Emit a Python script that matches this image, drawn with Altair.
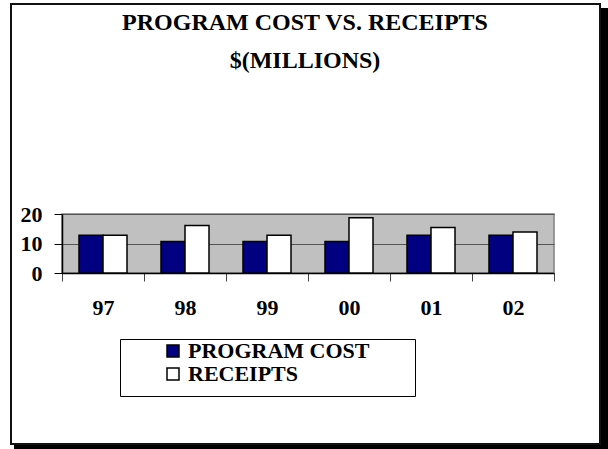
import altair as alt
import pandas as pd

# Fiscal years and the two series, in $ millions
years = ["97", "98", "99", "00", "01", "02"]
program_cost = [12.8, 10.7, 10.7, 10.7, 12.8, 12.8]
receipts = [12.8, 16.1, 12.8, 18.7, 15.4, 13.9]
series_names = ["PROGRAM COST", "RECEIPTS"]
series_colors = ["#000080", "#FFFFFF"]
y_ticks = [0, 10, 20]

rows = []
for yr, c, r in zip(years, program_cost, receipts):
    rows.append({"year": yr, "series": series_names[0], "value": c})
    rows.append({"year": yr, "series": series_names[1], "value": r})
df = pd.DataFrame(rows)

SERIF = "Liberation Serif"

bars = alt.Chart(df).mark_bar(stroke="black", strokeWidth=1.5).encode(
    x=alt.X(
        "year:N",
        sort=years,
        scale=alt.Scale(paddingInner=0, paddingOuter=0),
        axis=alt.Axis(
            title=None,
            labelAngle=0,
            labelFont=SERIF,
            labelFontSize=22,
            labelFontWeight="bold",
            labelColor="black",
            labelPadding=16,
            tickBand="extent",
            tickSize=8,
            tickColor="#444444",
            domainColor="black",
            domainWidth=1.5,
        ),
    ),
    xOffset=alt.XOffset(
        "series:N",
        sort=series_names,
        scale=alt.Scale(paddingOuter=0.708, paddingInner=0),
    ),
    y=alt.Y(
        "value:Q",
        scale=alt.Scale(domain=[0, 20], nice=False),
        axis=alt.Axis(
            title=None,
            values=y_ticks,
            labelFont=SERIF,
            labelFontSize=22,
            labelFontWeight="bold",
            labelColor="black",
            labelPadding=12,
            tickSize=8,
            tickColor="black",
            domainColor="black",
            domainWidth=1.5,
            grid=True,
            gridColor="#555555",
            gridWidth=1,
        ),
    ),
    fill=alt.Fill(
        "series:N",
        sort=series_names,
        scale=alt.Scale(domain=series_names, range=series_colors),
        legend=alt.Legend(
            title=None,
            orient="none",
            legendX=100,
            legendY=126,
            direction="vertical",
            padding=0,
            symbolType="square",
            symbolSize=144,
            symbolStrokeColor="black",
            symbolStrokeWidth=1.5,
            labelOffset=4,
            labelFont=SERIF,
            labelFontSize=22,
            labelFontWeight="bold",
            labelColor="black",
            labelLimit=400,
            rowPadding=1,
        ),
    ),
)

# Outer chart frame, its drop shadow, and the box around the legend
one = pd.DataFrame({"k": [0]})
frame = alt.Chart(one).mark_rect(filled=False, stroke="#111111", strokeWidth=2).encode(
    x=alt.value(-51), x2=alt.value(538), y=alt.value(-210), y2=alt.value(230)
)
shadow_right = alt.Chart(one).mark_rule(color="black", strokeWidth=7).encode(
    x=alt.value(542.5), y=alt.value(-206), y2=alt.value(235)
)
shadow_bottom = alt.Chart(one).mark_rule(color="black", strokeWidth=4).encode(
    y=alt.value(233), x=alt.value(-48), x2=alt.value(546)
)
legend_box = alt.Chart(one).mark_rect(filled=False, stroke="black", strokeWidth=1).encode(
    x=alt.value(58.5), x2=alt.value(353.5), y=alt.value(125.5), y2=alt.value(182.5)
)

chart = alt.layer(bars, frame, shadow_right, shadow_bottom, legend_box).properties(
    width=492,
    height=59,
    background="white",
    autosize=alt.AutoSizeParams(type="none"),
    padding={"left": 62, "top": 214, "right": 54, "bottom": 176},
    title=alt.TitleParams(
        text=["PROGRAM COST VS. RECEIPTS", "$(MILLIONS)"],
        anchor="middle",
        frame="group",
        font=SERIF,
        fontSize=24,
        fontWeight="bold",
        color="black",
        lineHeight=38,
        offset=-70,
        dx=-3,
    ),
).configure_view(
    fill="#C0C0C0",
    stroke="#808080",
    strokeWidth=1.5,
)

chart.save("out.html", embed_options={"renderer": "svg", "actions": False})
